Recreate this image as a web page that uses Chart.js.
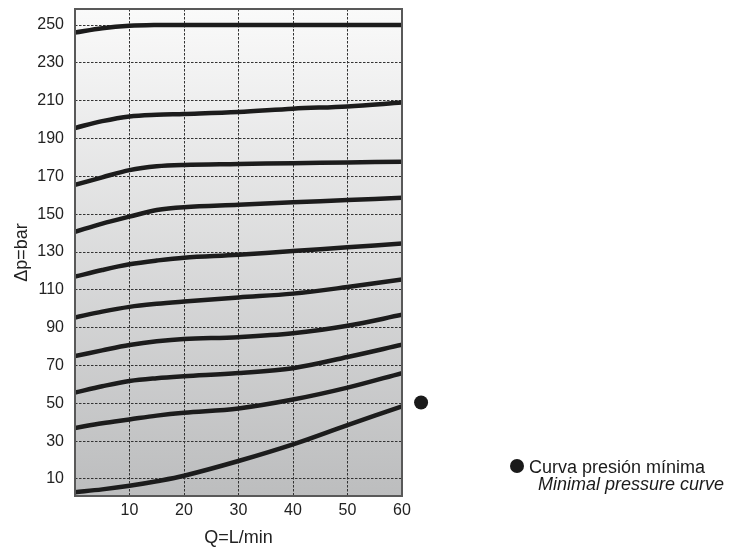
<!DOCTYPE html>
<html>
<head>
<meta charset="utf-8">
<script src="https://cdn.jsdelivr.net/npm/chart.js@4.4.1/dist/chart.umd.min.js"></script>
<style>
  html, body { margin: 0; padding: 0; background: #fff; }
  #wrap { position: relative; width: 742px; height: 549px; }
  .legend-dot { position: absolute; left: 510px; top: 459px; width: 14px; height: 14px; border-radius: 50%; background: #1a1a1a; }
  .legend-txt { position: absolute; font-family: "Liberation Sans", Arial, sans-serif; font-size: 18px; line-height: 17px; color: #1a1a1a; white-space: nowrap; }
</style>
</head>
<body>
<div id="wrap">
  <canvas id="chart"></canvas>
  <div class="legend-dot"></div>
  <div class="legend-txt" style="left: 529px; top: 459px;">Curva presión mínima</div>
  <div class="legend-txt" style="left: 538px; top: 476px; font-style: italic;">Minimal pressure curve</div>
</div>
<script>
// Flow (L/min) sample points shared by every curve
const flowQ = [0, 5, 10, 15, 20, 30, 40, 50, 60];

// Pressure drop (bar) curves, top to bottom
const curve250 = [246, 248.3, 249.6, 250, 250, 250, 250, 250, 250];
const curve210 = [195.6, 199.2, 201.7, 202.6, 203, 204, 205.8, 207, 209];
const curve178 = [165.5, 169.5, 173.3, 175.3, 176, 176.5, 177, 177.3, 177.8];
const curve158 = [140.7, 145, 148.7, 152.2, 153.7, 155, 156.3, 157.5, 158.7];
const curve135 = [117, 120.5, 123.5, 125.5, 127, 128.5, 130.5, 132.5, 134.5];
const curve115 = [95.4, 98.5, 101, 102.6, 103.8, 106, 108, 111.5, 115.5];
const curve97 = [75, 78, 80.8, 82.8, 84, 85, 87, 91, 96.8];
const curve81 = [55.7, 59, 61.8, 63.3, 64.3, 66, 68.6, 74.5, 81];
const curve66 = [37, 39.5, 41.5, 43.5, 45, 47.3, 52, 58.3, 66];
const curveMin = [3, 4.5, 6.4, 8.8, 11.7, 19.5, 28.3, 38.5, 48.4];

const curves = [curve250, curve210, curve178, curve158, curve135, curve115, curve97, curve81, curve66, curveMin];

// Marker next to the minimal pressure curve
const markerQ = [63.5];
const markerP = [50.4];

// Axis ticks
const xTicks = [10, 20, 30, 40, 50, 60];
const yGrid = [10, 20, 30, 40, 50, 60, 70, 80, 90, 100, 110, 120, 130, 140, 150, 160, 170, 180, 190, 200, 210, 220, 230, 240, 250];
const yLabels = [10, 30, 50, 70, 90, 110, 130, 150, 170, 190, 210, 230, 250];

const FONT = '"Liberation Sans", Arial, sans-serif';

// Gradient background, frame around the plot and the marker dot
const plotFrame = {
  id: 'plotFrame',
  beforeDraw(chart) {
    const { ctx, chartArea: a } = chart;
    const g = ctx.createLinearGradient(0, a.top, 0, a.bottom);
    g.addColorStop(0, '#fafafa');
    g.addColorStop(1, '#bcbdbe');
    ctx.save();
    ctx.fillStyle = g;
    ctx.fillRect(a.left, a.top, a.right - a.left, a.bottom - a.top);
    ctx.restore();
  },
  afterDraw(chart) {
    const { ctx, chartArea: a, scales } = chart;
    ctx.save();
    ctx.strokeStyle = '#595959';
    ctx.lineWidth = 2;
    ctx.strokeRect(a.left, a.top, a.right - a.left, a.bottom - a.top);

    // marker sits outside the plot area, so place it through the scales here
    ctx.fillStyle = '#1a1a1a';
    markerQ.forEach((q, i) => {
      ctx.beginPath();
      ctx.arc(scales.x.getPixelForValue(q), scales.y.getPixelForValue(markerP[i]), 7, 0, Math.PI * 2);
      ctx.fill();
    });
    ctx.restore();
  }
};

const datasets = curves.map(vals => ({
  data: flowQ.map((q, i) => ({ x: q, y: vals[i] })),
  borderColor: '#1c1c1c',
  borderWidth: 4.5,
  pointRadius: 0,
  tension: 0.35,
  fill: false
}));

new Chart(document.getElementById('chart'), {
  type: 'line',
  data: { datasets },
  plugins: [plotFrame],
  options: {
    responsive: true,
    maintainAspectRatio: false,
    animation: false,
    layout: { padding: { top: 9, right: 340, bottom: 0, left: 0 } },
    plugins: {
      legend: { display: false },
      tooltip: { enabled: false }
    },
    scales: {
      x: {
        type: 'linear',
        min: 0,
        max: 60,
        afterBuildTicks(scale) { scale.ticks = xTicks.map(v => ({ value: v })); },
        afterFit(scale) { scale.height = 53; scale.paddingLeft = 0; scale.paddingRight = 0; },
        ticks: { color: '#222', padding: 5, font: { family: FONT, size: 16 }, maxRotation: 0 },
        grid: { color: '#333', lineWidth: 1, drawTicks: false },
        border: { display: false, dash: [2.5, 1.5] },
        title: { display: true, text: 'Q=L/min', color: '#222', font: { family: FONT, size: 18 }, padding: { top: 0, bottom: 0 } }
      },
      y: {
        type: 'linear',
        min: 1,
        max: 258.5,
        afterBuildTicks(scale) { scale.ticks = yGrid.map(v => ({ value: v })); },
        afterFit(scale) { scale.width = 75; scale.paddingTop = 0; scale.paddingBottom = 0; },
        ticks: {
          color: '#222',
          padding: 11,
          font: { family: FONT, size: 16 },
          callback: v => (yLabels.includes(v) ? String(v) : '')
        },
        grid: { color: '#333', lineWidth: 1, drawTicks: false },
        border: { display: false, dash: [2.5, 1.5] },
        title: { display: true, text: 'Δp=bar', color: '#222', font: { family: FONT, size: 18 }, padding: { top: 11, bottom: 0 } }
      }
    }
  }
});
</script>
</body>
</html>
